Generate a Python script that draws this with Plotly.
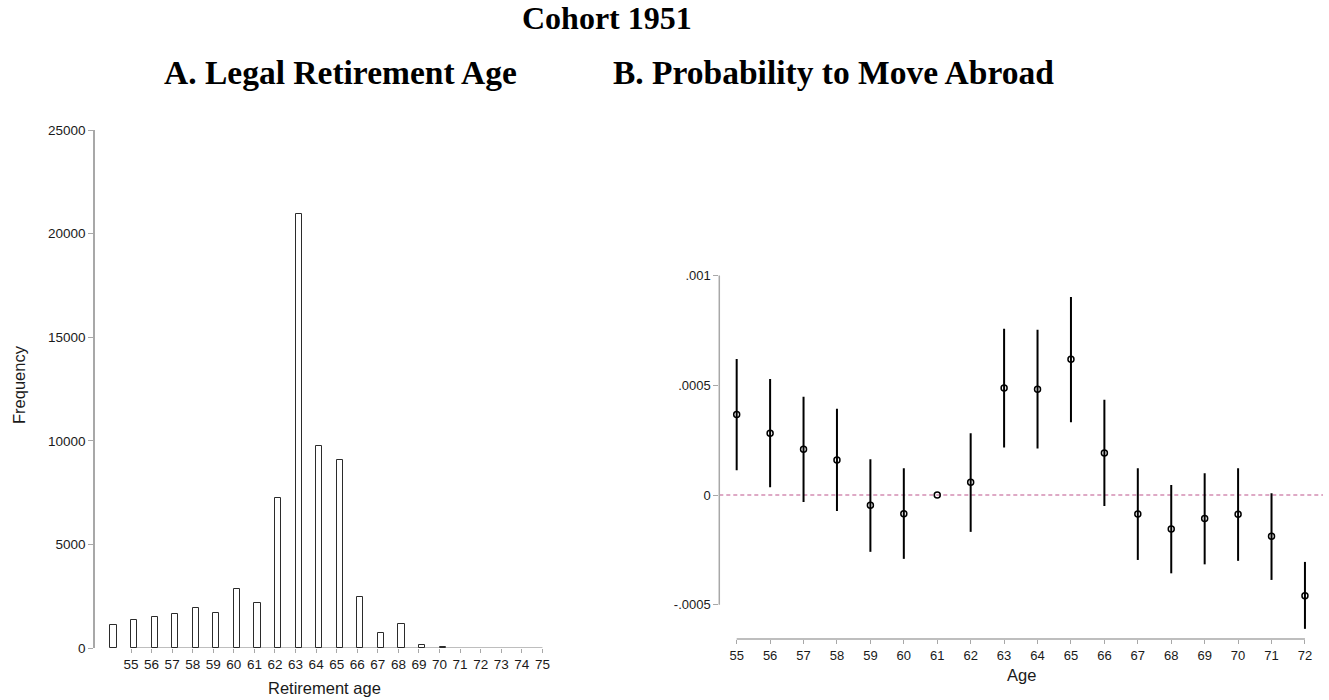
import plotly.graph_objects as go

# ---------------- data ----------------
ret_ages = [54, 55, 56, 57, 58, 59, 60, 61, 62, 63, 64, 65, 66, 67, 68, 69, 70]
ret_freq = [1120, 1370, 1480, 1620, 1950, 1680, 2840, 2180, 7250, 20960, 9760, 9060, 2440, 720, 1180, 130, 60]
hist_ticks = list(range(55, 76))
hist_yticks = [0, 5000, 10000, 15000, 20000, 25000]

ages = [55, 56, 57, 58, 59, 60, 61, 62, 63, 64, 65, 66, 67, 68, 69, 70, 71, 72]
coef = [0.000367, 0.000282, 0.000209, 0.000160, -0.000047, -0.000085, 0.0, 0.000058,
        0.000488, 0.000482, 0.000619, 0.000192, -0.000087, -0.000155, -0.000107,
        -0.000088, -0.000188, -0.000459]
ci_hi = [0.000620, 0.000529, 0.000448, 0.000393, 0.000163, 0.000122, 0.0, 0.000282,
         0.000758, 0.000753, 0.000902, 0.000434, 0.000122, 0.000046, 0.000099,
         0.000122, 0.000008, -0.000305]
ci_lo = [0.000113, 0.000035, -0.000032, -0.000073, -0.000259, -0.000291, 0.0, -0.000168,
         0.000216, 0.000212, 0.000332, -0.000050, -0.000296, -0.000357, -0.000316,
         -0.000300, -0.000387, -0.000610]
coef_yticks = [-0.0005, 0, 0.0005, 0.001]
coef_yticklabels = ["-.0005", "0", ".0005", ".001"]

W, H = 1329, 700
def fx(px):
    return min(1.0, max(0.0, px / W))
def fy(py):
    return min(1.0, max(0.0, 1 - py / H))

AXIS_GRAY = "#a8a8a8"
TICK_FONT = dict(family="Liberation Sans, Arial, sans-serif", size=13.5, color="#1a1a1a")
TITLE_FONT = dict(family="Liberation Sans, Arial, sans-serif", size=16.5, color="#1a1a1a")
SERIF_MAIN = dict(family="Liberation Serif, Times New Roman, serif", size=32, color="#000000")
SERIF_SUB = dict(family="Liberation Serif, Times New Roman, serif", size=33.5, color="#000000")

fig = go.Figure()

fig.add_trace(go.Bar(
    x=ret_ages, y=ret_freq, width=0.3, offset=0,
    marker=dict(color="white", line=dict(color="#2b2b2b", width=1)),
    xaxis="x", yaxis="y", showlegend=False, hoverinfo="x+y",
))

err_plus = [h - c for h, c in zip(ci_hi, coef)]
err_minus = [c - l for c, l in zip(coef, ci_lo)]
fig.add_trace(go.Scatter(
    x=ages, y=coef, mode="markers",
    marker=dict(symbol="circle-open", size=6, color="black", line=dict(width=1.5, color="black")),
    error_y=dict(type="data", symmetric=False, array=err_plus, arrayminus=err_minus,
                 width=0, thickness=2, color="black"),
    xaxis="x2", yaxis="y2", showlegend=False,
))

fig.update_layout(
    width=W, height=H,
    margin=dict(l=0, r=0, t=0, b=0, pad=0),
    paper_bgcolor="white", plot_bgcolor="white",
    showlegend=False,
    bargap=0,
    xaxis=dict(
        domain=[fx(95), fx(545.5)], range=[53.25, 75.15], anchor="y",
        tickmode="array", tickvals=hist_ticks, ticktext=[str(t) for t in hist_ticks],
        ticks="outside", ticklen=4, tickcolor=AXIS_GRAY, showline=False,
        showgrid=False, zeroline=False, tickfont=TICK_FONT, automargin=False,
    ),
    yaxis=dict(
        domain=[fy(648), fy(130)], range=[0, 25000], anchor="x",
        tickmode="array", tickvals=hist_yticks, ticktext=[str(t) for t in hist_yticks],
        ticks="outside", ticklen=5, tickcolor=AXIS_GRAY, showline=True, linecolor=AXIS_GRAY,
        linewidth=1.5, showgrid=False, zeroline=False, tickfont=TICK_FONT, automargin=False,
    ),
    xaxis2=dict(
        domain=[fx(719.3), fx(1323)], range=[54.48, 72.54], anchor="y2",
        tickmode="array", tickvals=ages, ticktext=[str(a) for a in ages],
        ticks="outside", ticklen=4, tickcolor=AXIS_GRAY, showline=False,
        showgrid=False, zeroline=False, tickfont=dict(TICK_FONT, size=13), automargin=False,
    ),
    yaxis2=dict(
        domain=[fy(639), fy(264)], range=[-0.0006563, 0.0010529], anchor="x2",
        tickmode="array", tickvals=coef_yticks, ticktext=coef_yticklabels,
        ticks="outside", ticklen=5, tickcolor=AXIS_GRAY, showline=False,
        showgrid=False, zeroline=False, tickfont=dict(TICK_FONT, size=13), automargin=False,
    ),
)

shapes = [
    dict(type="line", xref="x", yref="y", x0=min(hist_ticks), x1=max(hist_ticks), y0=0, y1=0,
         line=dict(color=AXIS_GRAY, width=1.5), layer="below"),
    dict(type="line", xref="x2", yref="y2 domain", x0=min(ages), x1=max(ages), y0=0, y1=0,
         line=dict(color=AXIS_GRAY, width=1.5)),
    dict(type="line", xref="x2 domain", yref="y2", x0=0, x1=0,
         y0=min(coef_yticks), y1=max(coef_yticks),
         line=dict(color=AXIS_GRAY, width=1.5)),
    dict(type="line", xref="x2 domain", yref="y2", x0=0, x1=1, y0=0, y1=0,
         line=dict(color="#d38db3", width=1.3, dash="4px,3px"), layer="below"),
]
fig.update_layout(shapes=shapes)

annotations = [
    dict(text="<b>Cohort 1951</b>", x=fx(607), y=fy(18), xref="paper", yref="paper",
         showarrow=False, font=SERIF_MAIN, xanchor="center", yanchor="middle"),
    dict(text="<b>A. Legal Retirement Age</b>", x=fx(340), y=fy(72), xref="paper", yref="paper",
         showarrow=False, font=SERIF_SUB, xanchor="center", yanchor="middle"),
    dict(text="<b>B. Probability to Move Abroad</b>", x=fx(833), y=fy(72), xref="paper", yref="paper",
         showarrow=False, font=SERIF_SUB, xanchor="center", yanchor="middle"),
    dict(text="Retirement age", x=fx(324), y=fy(688), xref="paper", yref="paper",
         showarrow=False, font=TITLE_FONT, xanchor="center", yanchor="middle"),
    dict(text="Age", x=fx(1021), y=fy(675), xref="paper", yref="paper",
         showarrow=False, font=TITLE_FONT, xanchor="center", yanchor="middle"),
    dict(text="Frequency", x=fx(19), y=fy(385), xref="paper", yref="paper", textangle=-90,
         showarrow=False, font=TITLE_FONT, xanchor="center", yanchor="middle"),
]
fig.update_layout(annotations=annotations)

# remove the default 8px page margin so the 1329x700 figure fills the window exactly
fig.write_html(
    "out.html",
    config={"displayModeBar": False},
    post_script="document.body.style.margin='0';document.body.style.overflow='hidden';",
)
